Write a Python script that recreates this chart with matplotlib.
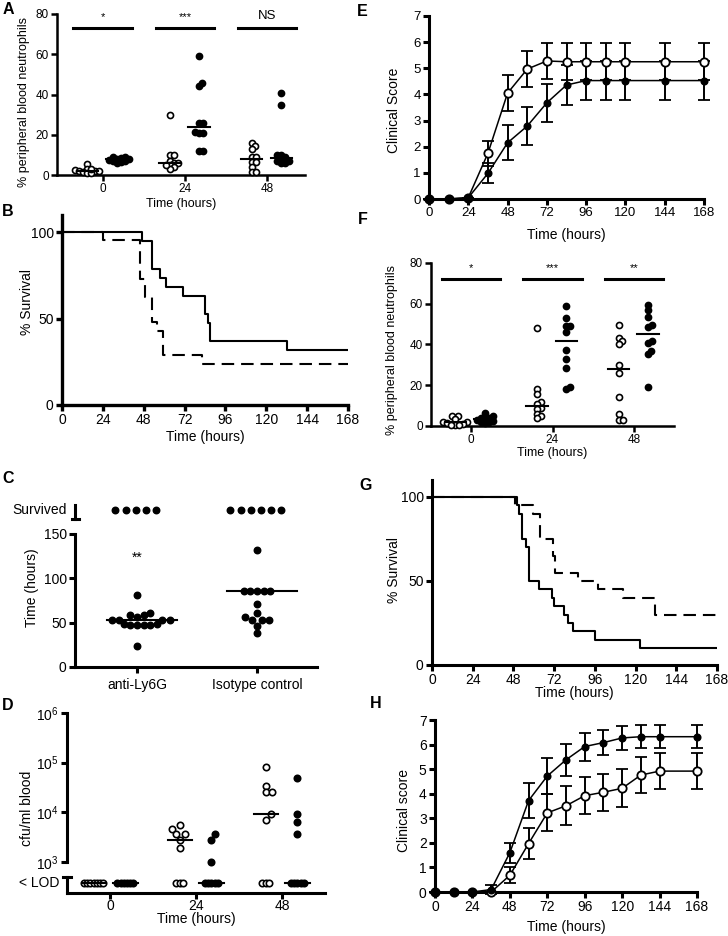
import numpy as np
import matplotlib
matplotlib.use('Agg')
import matplotlib.pyplot as plt

plt.rcParams['font.family'] = ['Liberation Sans', 'DejaVu Sans']
plt.rcParams['mathtext.fontset'] = 'custom'
plt.rcParams['mathtext.rm'] = 'Liberation Sans'
plt.rcParams['lines.scale_dashes'] = False

#==============================================================================#
# Data
#==============================================================================#
# A: % peripheral blood neutrophils, open / closed at 0, 24, 48 h
a_times = ['0', '24', '48']
a_open = [[5.5, 3, 2.5, 2, 2, 1.5, 1, 1, 3, 2],
          [30, 10, 10, 7, 6, 6, 5, 4, 3, 5],
          [16, 14.5, 13, 9, 9, 6.5, 6.5, 4, 1.5, 1.5]]
a_closed = [[9, 8.5, 8, 8, 7.5, 7, 7, 6.5, 6, 9],
            [59, 45.5, 44, 26, 26, 21.5, 21, 21, 12, 12],
            [40.5, 35, 10, 10, 9, 8, 7, 7, 6, 6]]
a_sig = ['*', '***', 'NS']

# B: survival curves
b_solid_t = [0, 47, 53, 57.4, 61, 71, 84, 86, 87, 132, 168]
b_solid_s = [100, 94.7, 78.9, 73.7, 68.4, 63.2, 52.6, 47.4, 36.8, 31.6, 31.6]
b_dash_t = [0, 24, 46, 48.5, 53, 56, 59.5, 82, 168]
b_dash_s = [100, 95.5, 73, 62.5, 48, 43, 29, 24, 24]

# C: time of death (hours), plus number that survived
c_groups = ['anti-Ly6G', 'Isotype control']
c_anti_hours = [23.6, 47, 47, 47.5, 47.5, 48, 48, 53, 53, 53, 53, 56.7, 58.6, 58.6, 61, 81]
c_anti_survived = 5
c_iso_hours = [38.7, 46.6, 53, 53, 53, 56.7, 60.5, 70.7, 85.7, 85.7, 85.7, 85.7, 85.7, 132]
c_iso_survived = 6

# D: cfu/ml blood (0 = below limit of detection)
d_times = ['0', '24', '48']
d_open = [[0, 0, 0, 0, 0, 0, 0],
          [5500, 4600, 3700, 3600, 2800, 1900, 0, 0, 0],
          [80000, 34000, 25000, 25000, 9100, 7100, 0, 0, 0]]
d_closed = [[0, 0, 0, 0, 0, 0],
            [3700, 2800, 1000, 0, 0, 0, 0, 0],
            [48000, 9100, 6200, 3700, 0, 0, 0, 0, 0]]

# E: clinical score
e_time = [0, 12, 24, 36, 48, 60, 72, 84, 96, 108, 120, 144, 168]
e_open = [0, 0, 0.05, 1.75, 4.05, 4.97, 5.28, 5.25, 5.25, 5.25, 5.25, 5.25, 5.25]
e_open_err = [0, 0, 0, 0.47, 0.7, 0.68, 0.68, 0.7, 0.7, 0.7, 0.7, 0.7, 0.7]
e_closed = [0, 0, 0.05, 0.98, 2.15, 2.79, 3.68, 4.36, 4.53, 4.53, 4.53, 4.53, 4.53]
e_closed_err = [0, 0, 0, 0.38, 0.67, 0.73, 0.73, 0.75, 0.73, 0.73, 0.73, 0.73, 0.73]

# F: % peripheral blood neutrophils
f_open = [[5, 5, 3.5, 2, 2, 1.5, 1, 0.5, 0.5, 0.5],
          [48, 18, 15.5, 12, 11, 9, 8.5, 6, 5, 4],
          [49.5, 43, 41.5, 40, 30, 26, 14, 6, 3, 3]]
f_closed = [[6.5, 5, 4, 4, 3.5, 3, 2.5, 2, 2, 1.5],
            [59, 53, 49, 49, 46, 37.5, 33, 28.5, 18, 19],
            [59.5, 57, 53.5, 49.5, 48.5, 41.5, 40.5, 37, 35.5, 19]]
f_sig = ['*', '***', '**']

# G: survival curves
g_solid_t = [0, 50, 51.4, 53, 55.3, 57.3, 63.2, 71, 72, 78, 80, 83.3, 96, 122.6, 168]
g_solid_s = [100, 95, 90, 75, 70, 50, 45, 40, 35, 30, 25, 20, 15, 10, 10]
g_dash_t = [0, 49, 59.3, 63.4, 71.6, 72.6, 86.3, 98, 112.8, 131.4, 168]
g_dash_s = [100, 95, 90, 75, 65, 55, 50, 45, 40, 30, 30]

# H: clinical score
h_time = [0, 12, 24, 36, 48, 60, 72, 84, 96, 108, 120, 132, 144, 168]
h_closed = [0, 0, 0, 0.1, 1.6, 3.72, 4.72, 5.38, 5.92, 6.08, 6.27, 6.32, 6.32, 6.32]
h_closed_err = [0, 0, 0, 0.18, 0.4, 0.72, 0.72, 0.64, 0.57, 0.5, 0.48, 0.47, 0.47, 0.47]
h_open = [0, 0, 0, 0, 0.68, 1.97, 3.22, 3.51, 3.92, 4.06, 4.22, 4.76, 4.92, 4.92]
h_open_err = [0, 0, 0, 0, 0.33, 0.63, 0.75, 0.79, 0.76, 0.76, 0.77, 0.73, 0.74, 0.74]

hour_ticks = [0, 24, 48, 72, 96, 120, 144, 168]

#==============================================================================#
# Helpers
#==============================================================================#
W, H = 728, 936
fig = plt.figure(figsize=(W / 100, H / 100), dpi=100)


def panel(x0, y0, x1, y1, lw=2.0, fs=9.5):
    ax = fig.add_axes([x0 / W, 1 - y1 / H, (x1 - x0) / W, (y1 - y0) / H])
    ax.box_px = (x0, y0, x1, y1)
    ax.patch.set_alpha(0)
    for s in ['top', 'right']:
        ax.spines[s].set_visible(False)
    for s in ['left', 'bottom']:
        ax.spines[s].set_linewidth(lw)
    ax.tick_params(width=lw, length=4, pad=2, labelsize=fs)
    return ax


def labels(ax, xlabel, xl_y, ylabel, yl_x, yl_y=None, fs=9.5):
    x0, y0, x1, y1 = ax.box_px
    if xlabel:
        ax.set_xlabel(xlabel, fontsize=fs, va='center')
        ax.xaxis.set_label_coords(0.5, -(xl_y - y1) / (y1 - y0))
    if yl_y is None:
        yl_y = (y0 + y1) / 2
    ax.set_ylabel(ylabel, fontsize=fs, va='center')
    ax.yaxis.set_label_coords(-(x0 - yl_x) / (x1 - x0), (y1 - yl_y) / (y1 - y0))


def swarm(ax, xc, vals, d):
    # simple beeswarm: pixel offsets so that points keep a distance d apart
    vals = np.asarray(vals, float)
    pts = ax.transData.transform(np.column_stack([np.full(len(vals), xc), vals]))
    ys = pts[:, 1]
    placed = []
    offs = np.zeros(len(vals))
    for i in np.argsort(vals, kind='stable'):
        for k in range(300):
            cands = [0.0] if k == 0 else [k * d / 4, -k * d / 4]
            hit = None
            for c in cands:
                if all((c - px) ** 2 + (ys[i] - py) ** 2 >= d * d for px, py in placed):
                    hit = c
                    break
            if hit is not None:
                placed.append((hit, ys[i]))
                offs[i] = hit
                break
    inv = ax.transData.inverted()
    return inv.transform(np.column_stack([pts[:, 0] + offs, ys]))[:, 0]


def dot_panel(ax, opens, closeds, off_o, off_c, d, s, half):
    for i in range(len(opens)):
        for vals, off, face in [(opens[i], off_o, 'white'), (closeds[i], off_c, 'black')]:
            xs = swarm(ax, i + off, vals, d)
            ax.scatter(xs, vals, s=s, facecolor=face, edgecolor='black', lw=1.2,
                       zorder=3, clip_on=False)
            m = np.median(vals)
            ax.plot([i + off - half, i + off + half], [m, m], color='black', lw=1.5, zorder=4)


def letter(x, y, t):
    fig.text(x / W, 1 - y / H, t, fontsize=11.5, fontweight='bold', ha='center', va='center')


#==============================================================================#
# A
#==============================================================================#
ax = panel(57, 14, 305, 175, lw=1.8, fs=8.5)
ax.set_xlim(-0.56, 2.46)
ax.set_ylim(0, 80)
dot_panel(ax, a_open, a_closed, -0.19, 0.17, 4.0, 19, 0.13)
for i, t in enumerate(a_sig):
    ax.plot([i - 0.36, i + 0.35], [73, 73], color='black', lw=2.2, clip_on=False)
    ax.text(i, 78.5 if t != 'NS' else 79, t, ha='center', va='center',
            fontsize=8 if t != 'NS' else 9.5)
ax.set_xticks(range(3))
ax.set_xticklabels(a_times)
ax.set_yticks([0, 20, 40, 60, 80])
labels(ax, 'Time (hours)', 204, '% peripheral blood neutrophils', 24, 102, fs=9)

#==============================================================================#
# B
#==============================================================================#
ax = panel(62, 215, 348, 405, lw=2.4, fs=10)
ax.set_xlim(0, 168)
ax.set_ylim(0, 110)
ax.step(b_solid_t, b_solid_s, where='post', color='black', lw=1.5)
ax.step(b_dash_t, b_dash_s, where='post', color='black', lw=1.5, dashes=(9, 5))
ax.set_xticks(hour_ticks)
ax.set_yticks([0, 50, 100])
labels(ax, 'Time (hours)', 437, '% Survival', 27, 302, fs=10)

#==============================================================================#
# C
#==============================================================================#
ax = panel(75, 498, 317, 667, lw=2.2, fs=10)
ax.set_xlim(-0.517, 1.5)
ax.set_ylim(0, 190)
surv_y = 176
for i, (hrs, nsurv) in enumerate([(c_anti_hours, c_anti_survived), (c_iso_hours, c_iso_survived)]):
    xs = swarm(ax, i, hrs, 6.6)
    ax.scatter(xs, hrs, s=22, color='black', zorder=3, clip_on=False)
    sx = i - 0.01 + (np.arange(nsurv) - (nsurv - 1) / 2) * 0.085
    ax.scatter(sx, [surv_y] * nsurv, s=22, color='black', zorder=3, clip_on=False)
    m = np.median(np.r_[hrs, [np.inf] * nsurv])
    ax.plot([i - 0.25, i + 0.33], [m, m], color='black', lw=1.5, zorder=4)
ax.text(0.0, 123, '**', ha='center', va='center', fontsize=10)
ax.spines['left'].set_bounds(0, 150)
ax.set_yticks([0, 50, 100, 150])
ax.set_xticks([0, 1])
ax.set_xticklabels(c_groups)
ax.tick_params(axis='x', pad=4)
yt = ax.get_yaxis_transform()
ax.plot([0, 0], [166, 182], color='black', lw=2.2, transform=yt, clip_on=False)
ax.plot([-3 / 242, 4 / 242], [166, 166], color='black', lw=2.2, transform=yt, clip_on=False)
ax.text(-8 / 242, surv_y, 'Survived', transform=yt, ha='right', va='center', fontsize=10)
labels(ax, None, 0, 'Time (hours)', 32, 588, fs=10)

#==============================================================================#
# D
#==============================================================================#
lod_y = 2.565
ax = panel(67, 713, 325, 893, lw=2.2, fs=10)
ax.set_xlim(-0.5, 2.5)
ax.set_ylim(2.37, 6.0)
for i in range(3):
    for vals, off, face in [(d_open[i], -0.19, 'white'), (d_closed[i], 0.18, 'black')]:
        raw = np.asarray(vals, float)
        ly = np.where(raw > 0, np.log10(np.where(raw > 0, raw, 1)), lod_y)
        xs = np.empty(len(ly))
        det = ly > lod_y
        if det.any():
            xs[det] = swarm(ax, i + off, ly[det], 6.5)
        nl = (~det).sum()
        xs[~det] = i + off + (np.arange(nl) - (nl - 1) / 2) * (3.2 / 86)
        ax.scatter(xs, ly, s=21, facecolor=face, edgecolor='black', lw=1.2,
                   zorder=3, clip_on=False)
        my = np.median(ly)
        ax.plot([i + off - 0.14, i + off + 0.14], [my, my], color='black', lw=1.5, zorder=4)
ax.spines['left'].set_bounds(3, 6)
ax.set_yticks([3, 4, 5, 6])
ax.set_yticklabels([r'$10^{3}$', r'$10^{4}$', r'$10^{5}$', r'$10^{6}$'])
yt = ax.get_yaxis_transform()
ax.plot([0, 0], [2.37, 2.70], color='black', lw=2.2, transform=yt, clip_on=False)
ax.plot([-4 / 258, 4 / 258], [2.70, 2.70], color='black', lw=2.2, transform=yt, clip_on=False)
ax.text(-8 / 258, lod_y, '< LOD', transform=yt, ha='right', va='center', fontsize=10)
ax.set_xticks(range(3))
ax.set_xticklabels(d_times)
ax.tick_params(axis='x', pad=0.5)
labels(ax, 'Time (hours)', 919, 'cfu/ml blood', 27, 808, fs=10)

#==============================================================================#
# E
#==============================================================================#
def score_panel(ax, t, ys, errs, face, ms):
    c = ax.errorbar(t, ys, yerr=errs, color='black', lw=1.1, marker='o', ms=ms,
                    mfc=face, mec='black', mew=1.3, elinewidth=1.4, capsize=4,
                    capthick=1.4, zorder=3)
    for art in c.get_children():
        art.set_clip_on(False)


ax = panel(429, 16, 704, 199, lw=2.2, fs=9.5)
ax.set_xlim(0, 168)
ax.set_ylim(0, 7)
score_panel(ax, e_time, e_open, e_open_err, 'white', 6)
score_panel(ax, e_time, e_closed, e_closed_err, 'black', 4.5)
ax.set_xticks(hour_ticks)
ax.set_yticks(range(8))
labels(ax, 'Time (hours)', 235, 'Clinical Score', 394, 110, fs=10)

#==============================================================================#
# F
#==============================================================================#
ax = panel(431, 263, 674, 426, lw=1.8, fs=8.5)
ax.set_xlim(-0.49, 2.49)
ax.set_ylim(0, 80)
dot_panel(ax, f_open, f_closed, -0.19, 0.17, 4.0, 19, 0.13)
for i, t in enumerate(f_sig):
    ax.plot([i - 0.36, i + 0.36], [72, 72], color='black', lw=2.2, clip_on=False)
    ax.text(i, 77.5, t, ha='center', va='center', fontsize=8)
ax.set_xticks(range(3))
ax.set_xticklabels(a_times)
ax.set_yticks([0, 20, 40, 60, 80])
labels(ax, 'Time (hours)', 453, '% peripheral blood neutrophils', 392, 350, fs=9)

#==============================================================================#
# G
#==============================================================================#
ax = panel(432, 480, 717, 665, lw=2.2, fs=10)
ax.set_xlim(0, 168)
ax.set_ylim(0, 110)
ax.step(g_solid_t, g_solid_s, where='post', color='black', lw=1.5)
ax.step(g_dash_t, g_dash_s, where='post', color='black', lw=1.5, dashes=(9, 5))
ax.set_xticks(hour_ticks)
ax.set_yticks([0, 50, 100])
labels(ax, 'Time (hours)', 693, '% Survival', 394, 570, fs=10)

#==============================================================================#
# H
#==============================================================================#
ax = panel(435, 720, 697, 892, lw=2.2, fs=10)
ax.set_xlim(0, 168)
ax.set_ylim(0, 7)
score_panel(ax, h_time, h_open, h_open_err, 'white', 6)
score_panel(ax, h_time, h_closed, h_closed_err, 'black', 4.5)
ax.set_xticks(hour_ticks)
ax.set_yticks(range(8))
labels(ax, 'Time (hours)', 927, 'Clinical score', 404, 810, fs=10)

#==============================================================================#
# Panel letters
#==============================================================================#
letter(8, 10, 'A')
letter(8, 212, 'B')
letter(8, 479, 'C')
letter(8, 706, 'D')
letter(362, 12, 'E')
letter(363, 220, 'F')
letter(366, 485, 'G')
letter(376, 703, 'H')

fig.savefig('out.png', dpi=100)
